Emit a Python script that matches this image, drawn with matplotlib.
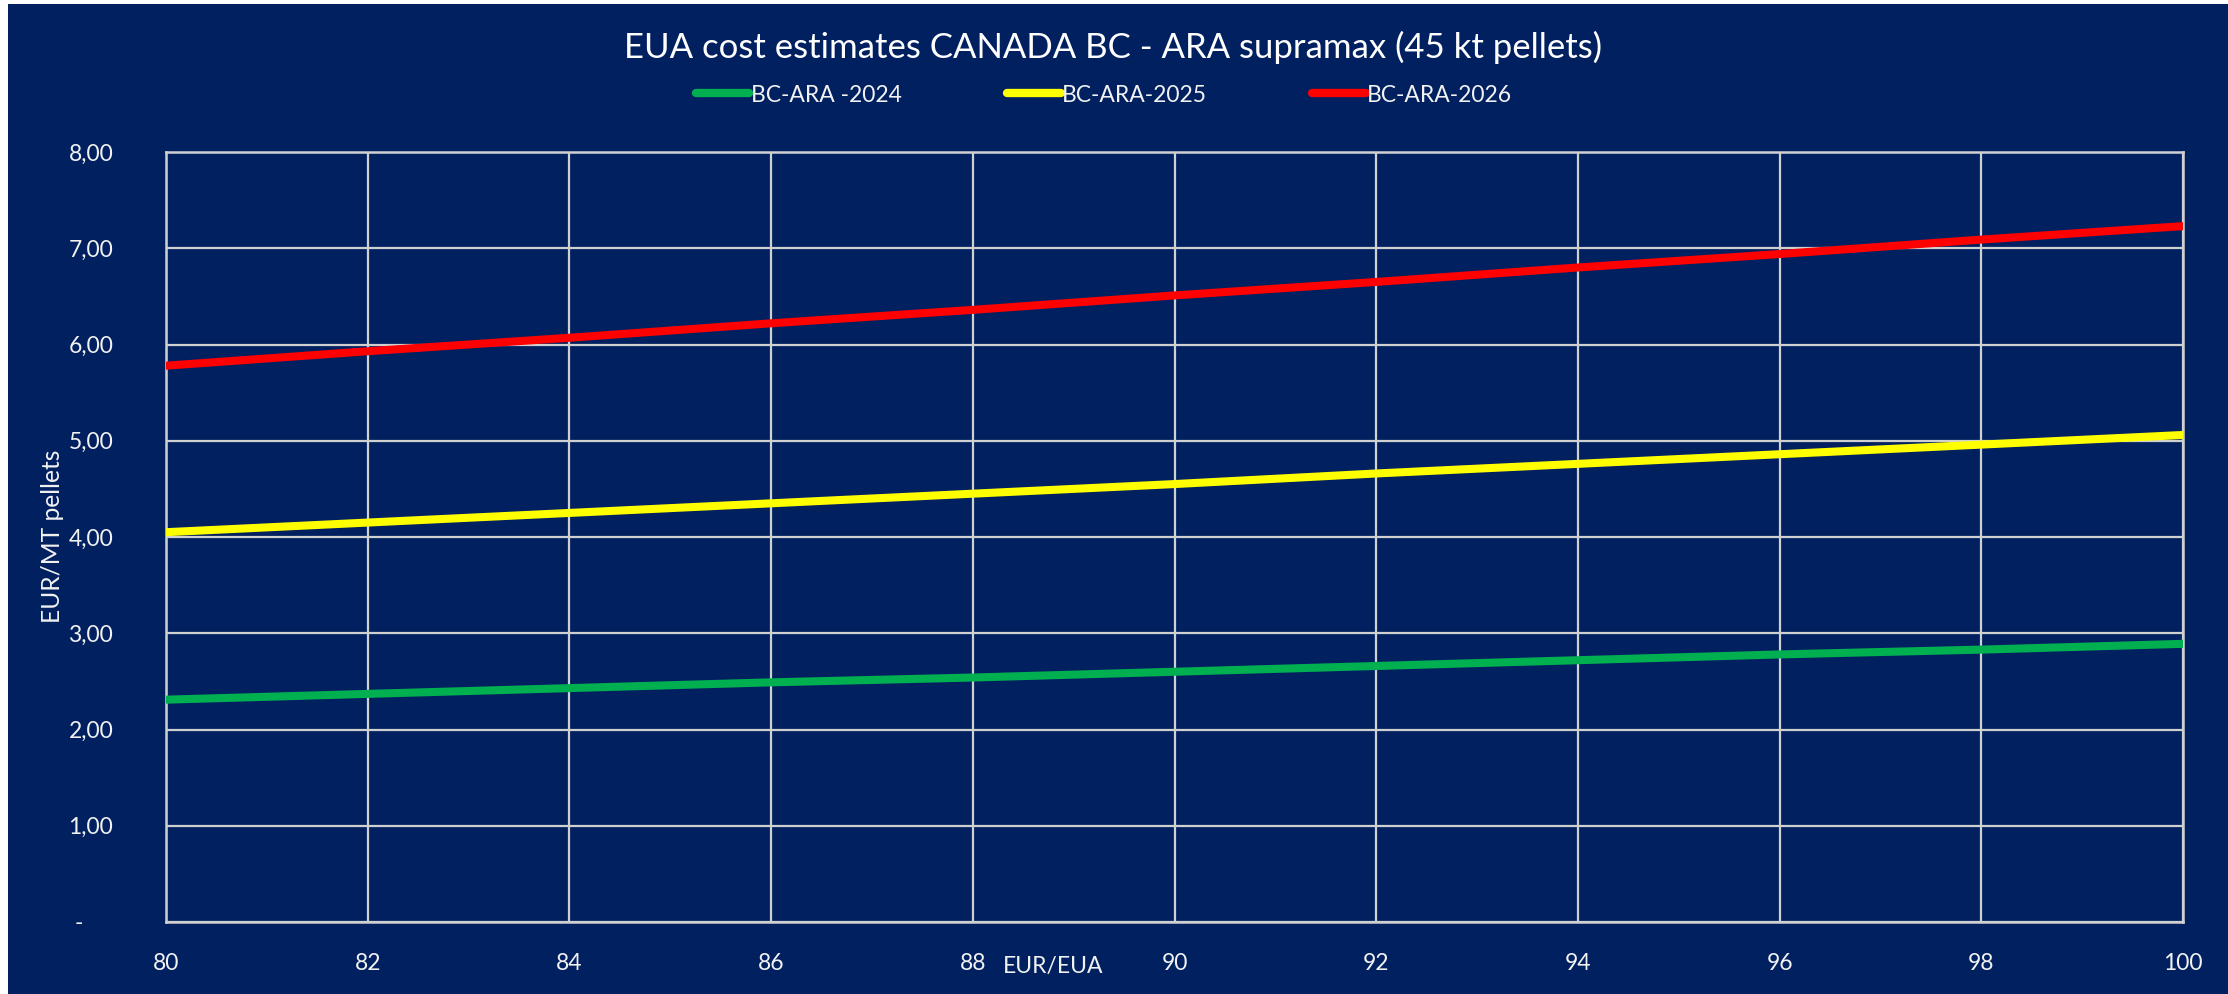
import matplotlib
matplotlib.use("Agg")
import matplotlib.pyplot as plt
from matplotlib.patches import Rectangle
from matplotlib.ticker import FuncFormatter, MultipleLocator

# EUA price (EUR/EUA) on the horizontal axis
eua_price = [80, 82, 84, 86, 88, 90, 92, 94, 96, 98, 100]

# Cost per tonne of pellets (EUR/MT) for each year
cost_2024 = [2.31, 2.37, 2.43, 2.49, 2.54, 2.60, 2.66, 2.72, 2.78, 2.83, 2.89]
cost_2025 = [4.05, 4.15, 4.25, 4.35, 4.45, 4.55, 4.66, 4.76, 4.86, 4.96, 5.06]
cost_2026 = [5.78, 5.93, 6.07, 6.22, 6.36, 6.51, 6.65, 6.80, 6.94, 7.09, 7.23]

series_labels = ["BC-ARA -2024", "BC-ARA-2025", "BC-ARA-2026"]
series_colors = ["#00B050", "#FFFF00", "#FF0000"]

title_text = "EUA cost estimates CANADA BC - ARA supramax (45 kt pellets)"
x_label = "EUR/EUA"
y_label = "EUR/MT pellets"

NAVY = "#002060"
GRID = "#D0D0D0"
TEXT = "#F2F2F2"
FONT = ["Lato", "DejaVu Sans"]

plt.rcParams["font.family"] = FONT

W, H = 2228, 994
fig = plt.figure(figsize=(W / 100, H / 100), dpi=100, facecolor="white")

# navy chart area with a thin white border at top/left
fig.patches.append(Rectangle((8 / W, 0), 1 - 8 / W, 1 - 4 / H,
                             transform=fig.transFigure, facecolor=NAVY,
                             edgecolor="none", zorder=-10))

ax = fig.add_axes([166 / W, 1 - 922 / H, (2183 - 166) / W, (922 - 152) / H])
ax.set_facecolor(NAVY)

series = [cost_2024, cost_2025, cost_2026]
for vals, lab, col in zip(series, series_labels, series_colors):
    ax.plot(eua_price, vals, color=col, lw=5.8, label=lab,
            solid_capstyle="round", zorder=3)

ax.set_xlim(80, 100)
ax.set_ylim(0, 8)
ax.xaxis.set_major_locator(MultipleLocator(2))
ax.yaxis.set_major_locator(MultipleLocator(1))


def y_fmt(v, pos):
    if abs(v) < 1e-9:
        return "-     "
    return f"{v:.2f}".replace(".", ",")


ax.yaxis.set_major_formatter(FuncFormatter(y_fmt))
ax.xaxis.set_major_formatter(FuncFormatter(lambda v, p: f"{v:.0f}"))

ax.grid(True, color=GRID, lw=1.6, zorder=1)
ax.set_axisbelow(True)
for sp in ax.spines.values():
    sp.set_color(GRID)
    sp.set_linewidth(1.8)

ax.tick_params(axis="both", length=0, colors=TEXT, labelsize=16.5)
ax.tick_params(axis="y", pad=38)
ax.tick_params(axis="x", pad=22)

fig.text(1113 / W, 1 - 47 / H, title_text, color="white", fontsize=25,
         ha="center", va="center")
fig.text(1053 / W, 1 - 966 / H, x_label, color=TEXT, fontsize=16.5,
         ha="center", va="center")
fig.text(53 / W, 1 - 536 / H, y_label, color=TEXT, fontsize=17.7,
         ha="center", va="center", rotation=90)

leg = fig.legend(loc="center", bbox_to_anchor=(1104 / W, 1 - 95 / H),
                 ncol=3, frameon=False, fontsize=16.5, handlelength=2.35,
                 handletextpad=0.05, columnspacing=4.6, labelcolor=TEXT)
for h in leg.get_lines():
    h.set_linewidth(6)
    h.set_solid_capstyle("round")

fig.savefig("out.png", dpi=100, facecolor=fig.get_facecolor())
